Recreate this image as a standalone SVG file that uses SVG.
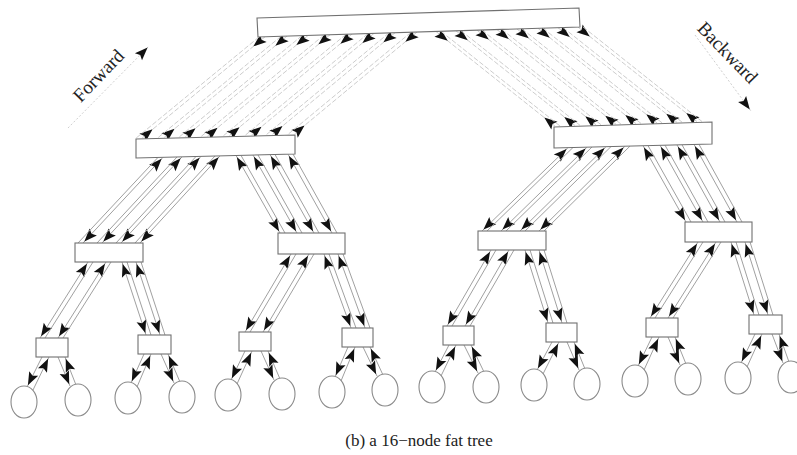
<svg xmlns="http://www.w3.org/2000/svg" width="797" height="455" viewBox="0 0 797 455">
<style>
.box{fill:#fff;stroke:#707070;stroke-width:1.1}
.leaf{fill:#fff;stroke:#8a8a8a;stroke-width:1.1}
.l0{stroke:#cdcdcd;stroke-width:1;stroke-dasharray:5 2;fill:none}
.l0m{stroke:#cdcdcd;stroke-width:1;stroke-dasharray:5 2;fill:none;marker-start:url(#ai);marker-end:url(#ai)}
.l1{stroke:#a0a0a0;stroke-width:1;fill:none}
.l1m{stroke:#a0a0a0;stroke-width:1;fill:none;marker-start:url(#ae);marker-end:url(#ae)}
.l2m{stroke:#a0a0a0;stroke-width:1;fill:none;marker-end:url(#ae)}
.lab{font-family:"Liberation Serif","Times New Roman",serif;fill:#222}
.dir{stroke:#cfcfcf;stroke-width:1;stroke-dasharray:2 2;fill:none;marker-end:url(#ae)}
</style>
<defs>
<marker id="ae" viewBox="-17 -6 17 12" refX="0" refY="0" markerWidth="17" markerHeight="12" markerUnits="userSpaceOnUse" orient="auto-start-reverse"><path d="M-2,0 L-15,-5 L-12.5,0 L-15,5 z" fill="#111"/></marker>
<marker id="ai" viewBox="-17 -6 17 12" refX="0" refY="0" markerWidth="17" markerHeight="12" markerUnits="userSpaceOnUse" orient="auto-start-reverse"><path d="M-15,0 L-2,-5 L-4.5,0 L-2,5 z" fill="#111"/></marker>
</defs>
<rect width="797" height="455" fill="#fff"/>
<g id="connectors">
<g id="root-l1-left">
<line class="l0m" x1="265" y1="36.8" x2="141" y2="138.9"/>
<line class="l0m" x1="287" y1="36.1" x2="163" y2="138.3"/>
<line class="l0m" x1="308" y1="35.5" x2="184" y2="137.8"/>
<line class="l0m" x1="330" y1="34.8" x2="206" y2="137.3"/>
<line class="l0m" x1="352" y1="34.1" x2="228" y2="136.7"/>
<line class="l0m" x1="374" y1="33.4" x2="250" y2="136.2"/>
<line class="l0m" x1="395" y1="32.8" x2="271" y2="135.6"/>
<line class="l0m" x1="417" y1="32.1" x2="293" y2="135.1"/>
<line class="l0" x1="259" y1="37" x2="135" y2="139"/>
<line class="l0" x1="281" y1="36.3" x2="157" y2="138.5"/>
<line class="l0" x1="302" y1="35.6" x2="178" y2="138"/>
<line class="l0" x1="324" y1="35" x2="200" y2="137.4"/>
<line class="l0" x1="346" y1="34.3" x2="222" y2="136.9"/>
<line class="l0" x1="368" y1="33.6" x2="244" y2="136.3"/>
<line class="l0" x1="389" y1="32.9" x2="265" y2="135.8"/>
<line class="l0" x1="411" y1="32.3" x2="287" y2="135.2"/>
</g>
<g id="root-l1-right">
<line class="l0m" x1="436" y1="31.5" x2="556" y2="126.9"/>
<line class="l0m" x1="456" y1="30.9" x2="576" y2="126.3"/>
<line class="l0m" x1="477" y1="30.2" x2="597" y2="125.6"/>
<line class="l0m" x1="497" y1="29.6" x2="617" y2="125"/>
<line class="l0m" x1="517" y1="29" x2="637" y2="124.4"/>
<line class="l0m" x1="538" y1="28.3" x2="658" y2="123.7"/>
<line class="l0m" x1="558" y1="27.7" x2="678" y2="123.1"/>
<line class="l0m" x1="578" y1="27.1" x2="698" y2="122.4"/>
<line class="l0" x1="441" y1="31.3" x2="561" y2="126.8"/>
<line class="l0" x1="461" y1="30.7" x2="581" y2="126.1"/>
<line class="l0" x1="482" y1="30.1" x2="602" y2="125.5"/>
<line class="l0" x1="502" y1="29.4" x2="622" y2="124.9"/>
<line class="l0" x1="522" y1="28.8" x2="642" y2="124.2"/>
<line class="l0" x1="543" y1="28.2" x2="663" y2="123.6"/>
<line class="l0" x1="563" y1="27.5" x2="683" y2="122.9"/>
<line class="l0" x1="583" y1="26.9" x2="703" y2="122.3"/>
</g>
<g id="l1-l2">
<line class="l1m" x1="163" y1="157.3" x2="83" y2="243"/>
<line class="l1m" x1="182" y1="156.9" x2="102" y2="243"/>
<line class="l1m" x1="201" y1="156.4" x2="121" y2="243"/>
<line class="l1m" x1="220" y1="155.9" x2="140" y2="243"/>
<line class="l1" x1="158" y1="157.4" x2="78" y2="243"/>
<line class="l1" x1="177" y1="157" x2="97" y2="243"/>
<line class="l1" x1="196" y1="156.5" x2="116" y2="243"/>
<line class="l1" x1="215" y1="156" x2="135" y2="243"/>
<line class="l1m" x1="236" y1="155.5" x2="280" y2="233"/>
<line class="l1m" x1="253" y1="155.1" x2="297" y2="233"/>
<line class="l1m" x1="270" y1="154.6" x2="314" y2="233"/>
<line class="l1m" x1="288" y1="154.2" x2="332" y2="233"/>
<line class="l1" x1="241" y1="155.4" x2="285" y2="233"/>
<line class="l1" x1="258" y1="155" x2="302" y2="233"/>
<line class="l1" x1="275" y1="154.5" x2="319" y2="233"/>
<line class="l1" x1="293" y1="154.1" x2="337" y2="233"/>
<line class="l1m" x1="568" y1="147.6" x2="482" y2="231"/>
<line class="l1m" x1="587" y1="147.2" x2="501" y2="231"/>
<line class="l1m" x1="606" y1="146.7" x2="520" y2="231"/>
<line class="l1m" x1="625" y1="146.2" x2="539" y2="231"/>
<line class="l1" x1="573" y1="147.5" x2="487" y2="231"/>
<line class="l1" x1="592" y1="147" x2="506" y2="231"/>
<line class="l1" x1="611" y1="146.6" x2="525" y2="231"/>
<line class="l1" x1="630" y1="146.1" x2="544" y2="231"/>
<line class="l1m" x1="643" y1="145.7" x2="686" y2="222"/>
<line class="l1m" x1="660" y1="145.3" x2="703" y2="222"/>
<line class="l1m" x1="677" y1="144.9" x2="720" y2="222"/>
<line class="l1m" x1="694" y1="144.5" x2="737" y2="222"/>
<line class="l1" x1="648" y1="145.6" x2="691" y2="222"/>
<line class="l1" x1="665" y1="145.2" x2="708" y2="222"/>
<line class="l1" x1="682" y1="144.8" x2="725" y2="222"/>
<line class="l1" x1="699" y1="144.3" x2="742" y2="222"/>
</g>
<g id="l2-l3">
<line class="l1m" x1="88" y1="262" x2="40" y2="338"/>
<line class="l1m" x1="106" y1="262" x2="58" y2="338"/>
<line class="l1" x1="93" y1="262" x2="45" y2="338"/>
<line class="l1" x1="111" y1="262" x2="63" y2="338"/>
<line class="l1m" x1="122" y1="262" x2="146" y2="335"/>
<line class="l1m" x1="136" y1="262" x2="160" y2="335"/>
<line class="l1" x1="127" y1="262" x2="151" y2="335"/>
<line class="l1" x1="141" y1="262" x2="165" y2="335"/>
<line class="l1m" x1="291" y1="254" x2="245" y2="332"/>
<line class="l1m" x1="309" y1="254" x2="263" y2="332"/>
<line class="l1" x1="296" y1="254" x2="250" y2="332"/>
<line class="l1" x1="314" y1="254" x2="268" y2="332"/>
<line class="l1m" x1="324" y1="254" x2="351" y2="328"/>
<line class="l1m" x1="338" y1="254" x2="365" y2="328"/>
<line class="l1" x1="329" y1="254" x2="356" y2="328"/>
<line class="l1" x1="343" y1="254" x2="370" y2="328"/>
<line class="l1m" x1="491" y1="250" x2="447" y2="326"/>
<line class="l1m" x1="509" y1="250" x2="465" y2="326"/>
<line class="l1" x1="496" y1="250" x2="452" y2="326"/>
<line class="l1" x1="514" y1="250" x2="470" y2="326"/>
<line class="l1m" x1="525" y1="250" x2="548" y2="323"/>
<line class="l1m" x1="539" y1="250" x2="562" y2="323"/>
<line class="l1" x1="530" y1="250" x2="553" y2="323"/>
<line class="l1" x1="544" y1="250" x2="567" y2="323"/>
<line class="l1m" x1="698" y1="242" x2="650" y2="318"/>
<line class="l1m" x1="716" y1="242" x2="668" y2="318"/>
<line class="l1" x1="703" y1="242" x2="655" y2="318"/>
<line class="l1" x1="721" y1="242" x2="673" y2="318"/>
<line class="l1m" x1="731" y1="242" x2="754" y2="315"/>
<line class="l1m" x1="745" y1="242" x2="768" y2="315"/>
<line class="l1" x1="736" y1="242" x2="759" y2="315"/>
<line class="l1" x1="750" y1="242" x2="773" y2="315"/>
</g>
<g id="l3-leaf">
<line class="l2m" x1="42" y1="357" x2="27" y2="387"/>
<line class="l2m" x1="33" y1="390" x2="49" y2="357"/>
<line class="l2m" x1="58" y1="357" x2="70" y2="386"/>
<line class="l2m" x1="76" y1="385" x2="65" y2="357"/>
<line class="l2m" x1="144" y1="354" x2="131" y2="383"/>
<line class="l2m" x1="137" y1="387" x2="151" y2="354"/>
<line class="l2m" x1="161" y1="354" x2="174" y2="383"/>
<line class="l2m" x1="180" y1="382" x2="168" y2="354"/>
<line class="l2m" x1="245" y1="351" x2="231" y2="380"/>
<line class="l2m" x1="237" y1="384" x2="252" y2="351"/>
<line class="l2m" x1="261" y1="351" x2="274" y2="380"/>
<line class="l2m" x1="280" y1="379" x2="268" y2="351"/>
<line class="l2m" x1="348" y1="347" x2="335" y2="377"/>
<line class="l2m" x1="341" y1="381" x2="355" y2="347"/>
<line class="l2m" x1="363" y1="347" x2="377" y2="376"/>
<line class="l2m" x1="383" y1="375" x2="370" y2="347"/>
<line class="l2m" x1="449" y1="345" x2="435" y2="372"/>
<line class="l2m" x1="441" y1="376" x2="456" y2="345"/>
<line class="l2m" x1="464" y1="345" x2="478" y2="373"/>
<line class="l2m" x1="484" y1="372" x2="471" y2="345"/>
<line class="l2m" x1="552" y1="342" x2="537" y2="370"/>
<line class="l2m" x1="543" y1="374" x2="559" y2="342"/>
<line class="l2m" x1="567" y1="342" x2="579" y2="370"/>
<line class="l2m" x1="585" y1="369" x2="574" y2="342"/>
<line class="l2m" x1="652" y1="337" x2="638" y2="366"/>
<line class="l2m" x1="644" y1="370" x2="659" y2="337"/>
<line class="l2m" x1="668" y1="337" x2="680" y2="365"/>
<line class="l2m" x1="686" y1="364" x2="675" y2="337"/>
<line class="l2m" x1="755" y1="334" x2="741" y2="363"/>
<line class="l2m" x1="747" y1="367" x2="762" y2="334"/>
<line class="l2m" x1="772" y1="334" x2="783" y2="363"/>
<line class="l2m" x1="789" y1="362" x2="779" y2="334"/>
</g>
</g>
<g id="root"><polygon class="box" points="257,18 579,8 580,27 258,37"/></g>
<g id="s1L"><polygon class="box" points="136,139 295,135 295,154 136,158"/></g>
<g id="s1R"><polygon class="box" points="554,127 712,122 712,144 554,148"/></g>
<g id="s2a"><rect class="box" x="75" y="243" width="68" height="19"/></g>
<g id="s2b"><rect class="box" x="278" y="233" width="67" height="21"/></g>
<g id="s2c"><rect class="box" x="478" y="231" width="68" height="19"/></g>
<g id="s2d"><rect class="box" x="685" y="222" width="67" height="20"/></g>
<g id="s3a"><rect class="box" x="36" y="338" width="32" height="19"/></g>
<g id="s3b"><rect class="box" x="138" y="335" width="33" height="19"/></g>
<g id="s3c"><rect class="box" x="239" y="332" width="32" height="19"/></g>
<g id="s3d"><rect class="box" x="342" y="328" width="31" height="19"/></g>
<g id="s3e"><rect class="box" x="443" y="326" width="31" height="19"/></g>
<g id="s3f"><rect class="box" x="546" y="323" width="31" height="19"/></g>
<g id="s3g"><rect class="box" x="646" y="318" width="32" height="19"/></g>
<g id="s3h"><rect class="box" x="749" y="315" width="33" height="19"/></g>
<g id="leaf1"><ellipse class="leaf" cx="24" cy="402" rx="13" ry="16"/></g>
<g id="leaf2"><ellipse class="leaf" cx="78" cy="400" rx="13" ry="16"/></g>
<g id="leaf3"><ellipse class="leaf" cx="128" cy="398" rx="13" ry="16"/></g>
<g id="leaf4"><ellipse class="leaf" cx="182" cy="397" rx="13" ry="16"/></g>
<g id="leaf5"><ellipse class="leaf" cx="228" cy="395" rx="13" ry="16"/></g>
<g id="leaf6"><ellipse class="leaf" cx="282" cy="394" rx="13" ry="16"/></g>
<g id="leaf7"><ellipse class="leaf" cx="332" cy="392" rx="13" ry="16"/></g>
<g id="leaf8"><ellipse class="leaf" cx="385" cy="390" rx="13" ry="16"/></g>
<g id="leaf9"><ellipse class="leaf" cx="432" cy="387" rx="13" ry="16"/></g>
<g id="leaf10"><ellipse class="leaf" cx="486" cy="387" rx="13" ry="16"/></g>
<g id="leaf11"><ellipse class="leaf" cx="534" cy="385" rx="13" ry="16"/></g>
<g id="leaf12"><ellipse class="leaf" cx="587" cy="384" rx="13" ry="16"/></g>
<g id="leaf13"><ellipse class="leaf" cx="635" cy="381" rx="13" ry="16"/></g>
<g id="leaf14"><ellipse class="leaf" cx="688" cy="379" rx="13" ry="16"/></g>
<g id="leaf15"><ellipse class="leaf" cx="738" cy="378" rx="13" ry="16"/></g>
<g id="leaf16"><ellipse class="leaf" cx="791" cy="377" rx="13" ry="16"/></g>
<g id="labels">
<line class="dir" x1="68" y1="128" x2="149" y2="46"/>
<line class="dir" x1="695" y1="35" x2="751" y2="111"/>
<text class="lab" font-size="19" text-anchor="middle" transform="translate(103,80) rotate(-46)">Forward</text>
<text class="lab" font-size="19" text-anchor="middle" transform="translate(723,57) rotate(46)">Backward</text>
<text class="lab" font-size="17" text-anchor="middle" x="419" y="446">(b) a 16−node fat tree</text>
</g>
</svg>
